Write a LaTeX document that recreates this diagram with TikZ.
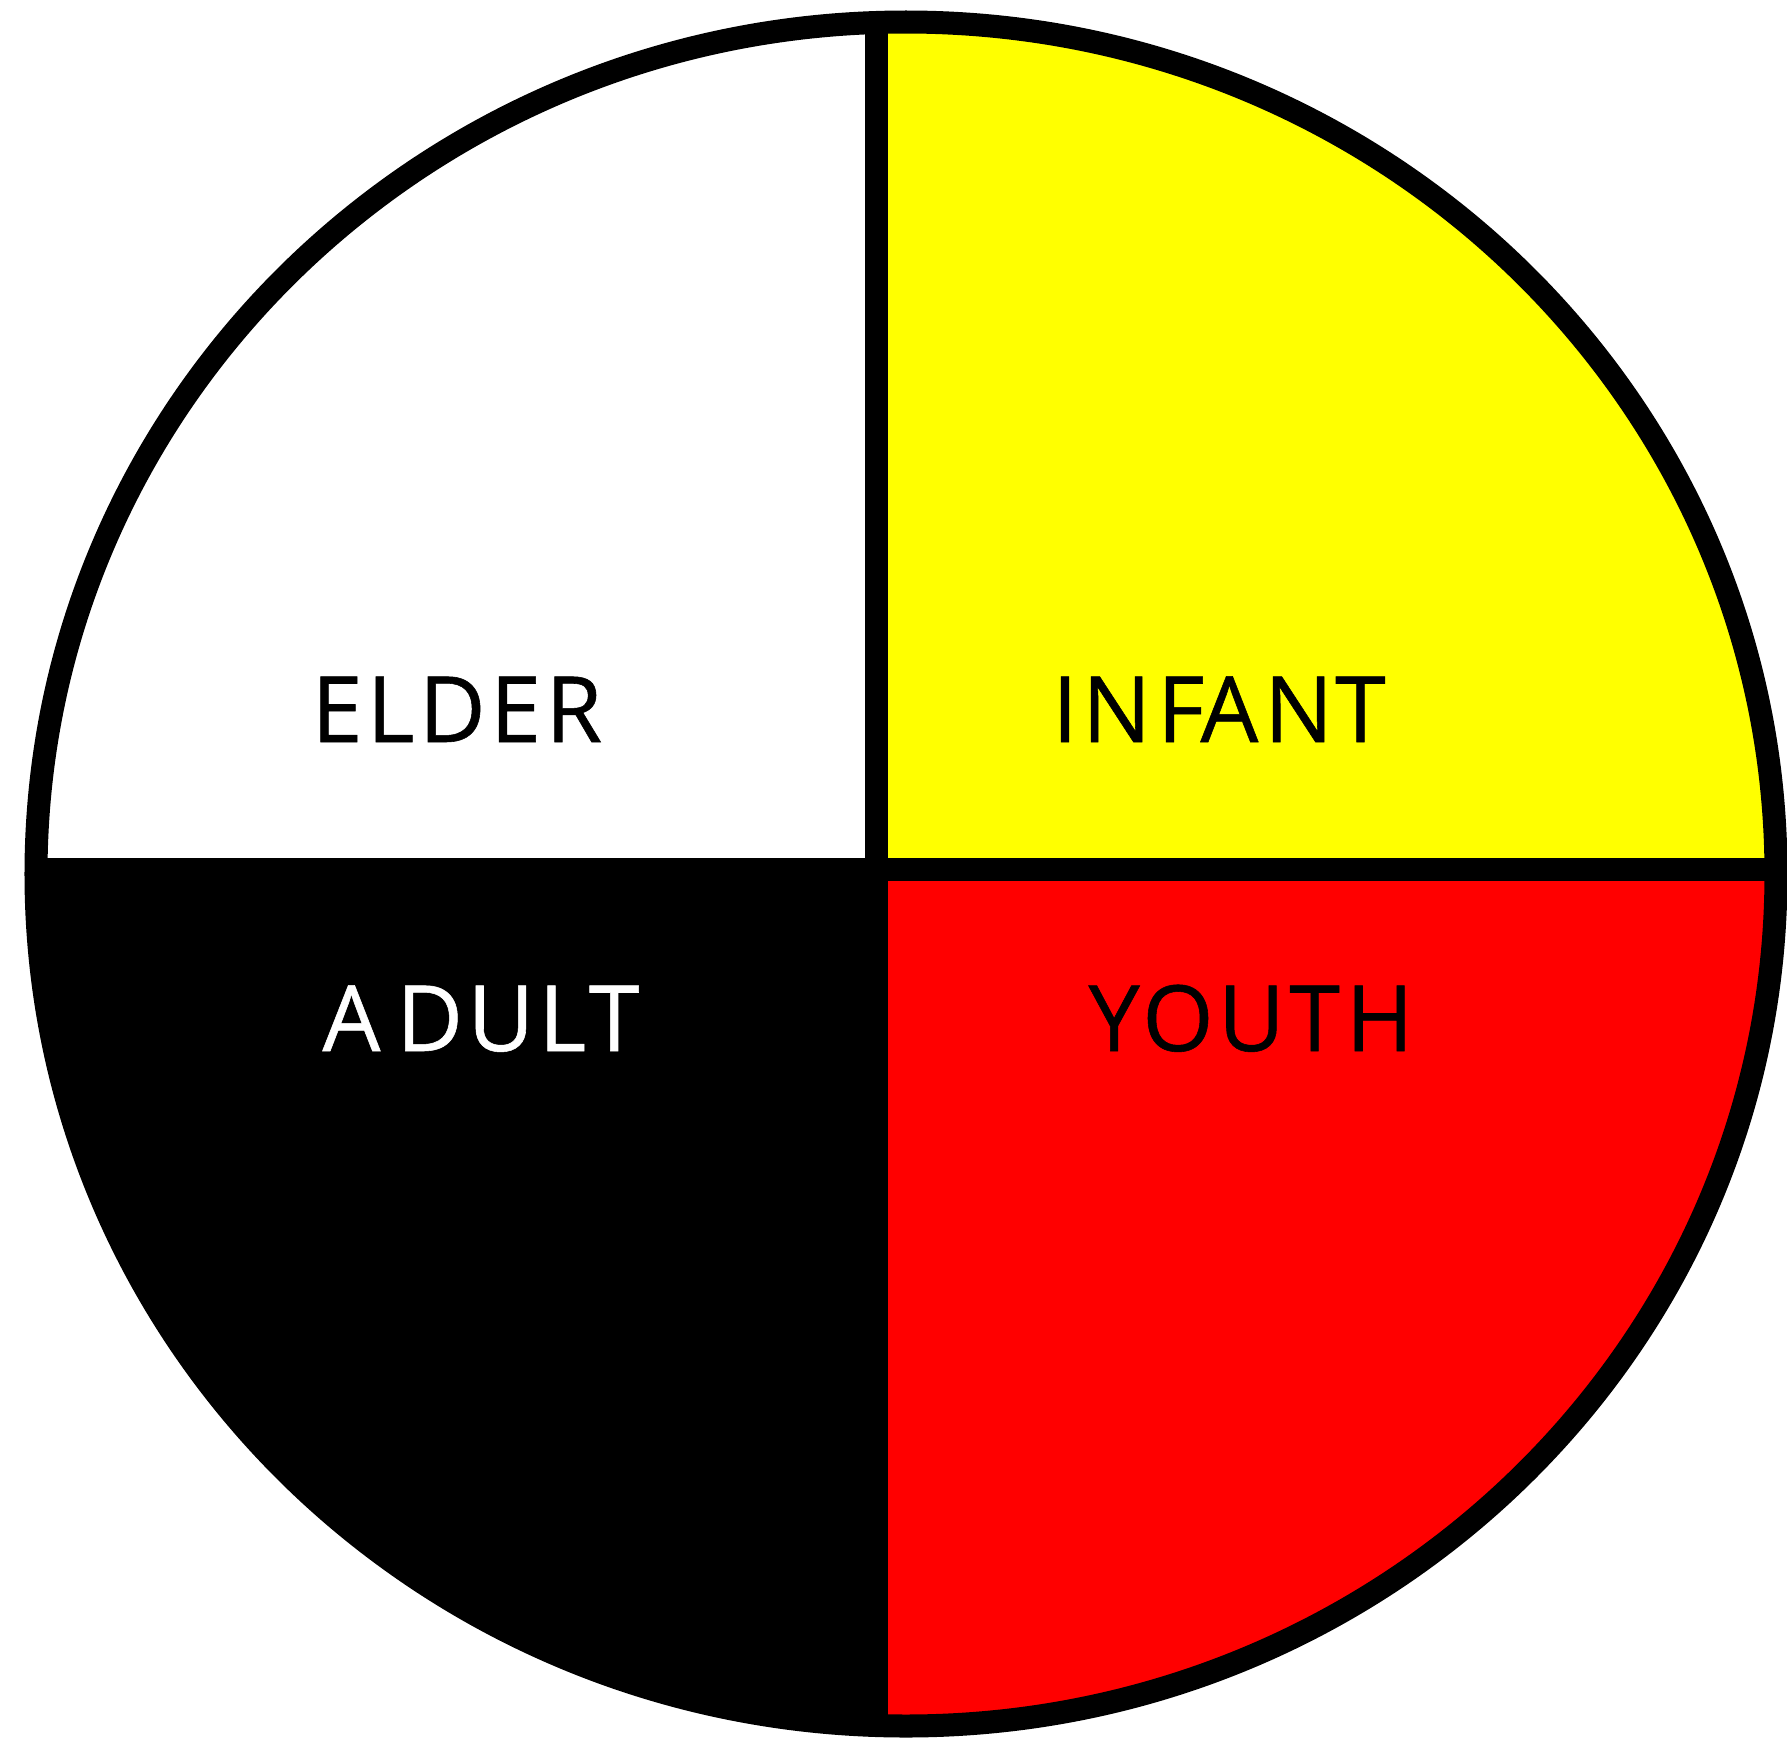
\documentclass[tikz,border=0pt]{standalone}
\usepackage{fontspec}
\setmainfont{Open Sans}
\definecolor{infantyellow}{RGB}{255,255,0}
\definecolor{youthred}{RGB}{255,0,0}
\begin{document}
\begin{tikzpicture}[x=0.01cm, y=-0.01cm,
    rim/.style={draw=black, line width=0.23cm},
    lbl/.style={font=\fontsize{26}{30}\selectfont\addfontfeature{LetterSpace=5,FakeBold=0.6}, inner sep=0pt, anchor=base}]
  \useasboundingbox (0,0) rectangle (1787,1739);
  % quadrants
  \begin{scope}
    \clip (906,874) ellipse [x radius=870, y radius=852];
    \fill[white] (0,0) rectangle (876,869);
    \fill[infantyellow] (876,0) rectangle (1787,869);
    \fill[black] (0,869) rectangle (876,1739);
    \fill[youthred] (876,869) rectangle (1787,1739);
    \draw[rim] (876,0) -- (876,1739);
    \draw[rim] (0,869) -- (1787,869);
  \end{scope}
  \draw[rim] (906,874) ellipse [x radius=870, y radius=852];
  % labels
  \node[lbl] (elder) at (457,742) {ELDER};
  \node[lbl] (infant) at (1219,742) {IN\kern0.06cm F\kern-0.04cm A\kern0.06cm N\kern0.02cm T};
  \node[lbl, text=white] (adult) at (481,1051) {A\kern0.16cm DULT};
  \node[lbl] (youth) at (1251,1051) {YOUT\kern0.06cm H};
\end{tikzpicture}
\end{document}
